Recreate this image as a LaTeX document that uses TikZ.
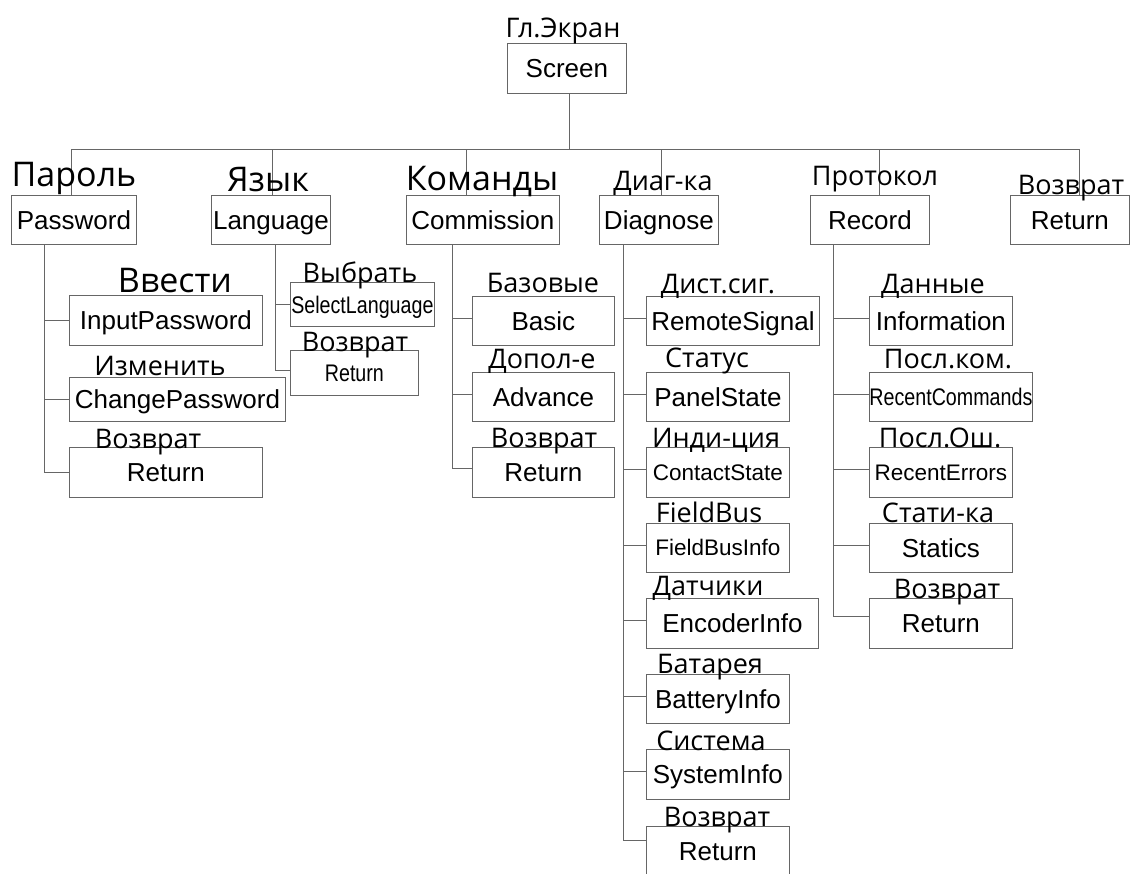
\documentclass[tikz,border=0pt]{standalone}
\usepackage{fontspec}
\setmainfont{Liberation Sans}
\newfontfamily\lblfont{Open Sans}
\newfontfamily\narrowfont[FakeStretch=0.82]{Liberation Sans}
\tikzset{
  menubox/.style={draw=black!60, line width=0.8pt, inner sep=0pt, anchor=north west,
    font=\fontsize{26}{28}\selectfont, text height=23pt, text depth=4.4pt},
  smallbox/.style={menubox, font=\fontsize{22.5}{24}\selectfont, text height=20pt, text depth=3.9pt},
  narrowbox/.style={menubox, font=\narrowfont\fontsize{24}{26}\selectfont, text height=21pt, text depth=3.8pt},
  lbl/.style={anchor=base, inner sep=0pt, font=\lblfont\fontsize{27}{29}\selectfont},
  biglbl/.style={lbl, font=\lblfont\fontsize{34}{36}\selectfont},
  wire/.style={draw=black!60, line width=0.8pt},
}
\begin{document}
\begin{tikzpicture}[x=1pt, y=-1pt]
    \useasboundingbox (0,0) rectangle (1131,873);
    \clip (0,0) rectangle (1131,873);
    % main screen and first level
    \node[menubox, minimum width=119pt, minimum height=50pt] (scr) at (507,43) {Screen};
    \node[menubox, minimum width=125pt, minimum height=49pt] (pwd) at (11,195) {Password};
    \node[menubox, minimum width=119pt, minimum height=49pt] (lng) at (211,195) {Language};
    \node[menubox, minimum width=153pt, minimum height=49pt] (cmd) at (406,195) {Commission};
    \node[menubox, minimum width=119pt, minimum height=49pt] (dgn) at (599,195) {Diagnose};
    \node[menubox, minimum width=119pt, minimum height=49pt] (rec) at (810,195) {Record};
    \node[menubox, minimum width=119pt, minimum height=49pt] (ret) at (1010,195) {Return};
    % password
    \node[menubox, minimum width=193pt, minimum height=50pt] (pin) at (69,295) {InputPassword};
    \node[menubox, minimum width=216pt, minimum height=44pt] (pch) at (69,377) {ChangePassword};
    \node[menubox, minimum width=193pt, minimum height=50pt] (pret) at (69,447) {Return};
    % language
    \node[narrowbox, minimum width=144pt, minimum height=44pt] (lsel) at (290,282) {SelectLanguage};
    \node[narrowbox, minimum width=128pt, minimum height=45pt] (lret) at (290,350) {Return};
    % commission
    \node[menubox, minimum width=142pt, minimum height=49pt] (cbas) at (472,296) {Basic};
    \node[menubox, minimum width=142pt, minimum height=49pt] (cadv) at (472,372) {Advance};
    \node[menubox, minimum width=142pt, minimum height=50pt] (cret) at (472,447) {Return};
    % diagnose
    \node[menubox, minimum width=173pt, minimum height=49pt] (dsig) at (646,296) {RemoteSignal};
    \node[menubox, minimum width=143pt, minimum height=49pt] (dpan) at (646,372) {PanelState};
    \node[smallbox, minimum width=143pt, minimum height=50pt] (dcon) at (646,447) {ContactState};
    \node[smallbox, minimum width=143pt, minimum height=49pt] (dfld) at (646,523) {FieldBusInfo};
    \node[menubox, minimum width=172pt, minimum height=50pt] (denc) at (646,598) {EncoderInfo};
    \node[menubox, minimum width=143pt, minimum height=49pt] (dbat) at (646,674) {BatteryInfo};
    \node[menubox, minimum width=143pt, minimum height=50pt] (dsys) at (646,749) {SystemInfo};
    \node[menubox, minimum width=143pt, minimum height=49pt] (dret) at (646,826) {Return};
    % record
    \node[menubox, minimum width=143pt, minimum height=49pt] (rinf) at (869,296) {Information};
    \node[narrowbox, minimum width=163pt, minimum height=49pt] (rcmd) at (869,372) {RecentCommands};
    \node[smallbox, minimum width=143pt, minimum height=50pt] (rerr) at (869,447) {RecentErrors};
    \node[menubox, minimum width=143pt, minimum height=49pt] (rsta) at (869,523) {Statics};
    \node[menubox, minimum width=143pt, minimum height=50pt] (rret) at (869,598) {Return};
    % bus
    \coordinate (bus_scr_pnt) at (569,149);
    \coordinate (bus_pwd_pnt) at (71,149);
    \coordinate (bus_lng_pnt) at (272,149);
    \coordinate (bus_cmd_pnt) at (466,149);
    \coordinate (bus_dgn_pnt) at (661,149);
    \coordinate (bus_rec_pnt) at (879,149);
    \coordinate (bus_ret_pnt) at (1079,149);
    \draw[wire] (scr.south -| bus_scr_pnt) -- (bus_scr_pnt);
    \draw[wire] (bus_pwd_pnt) -- (bus_ret_pnt);
    \foreach \n in {pwd,lng,cmd,dgn,rec,ret}
        \draw[wire] (bus_\n_pnt) -- (bus_\n_pnt |- \n.north);
    % trunks
    \coordinate (pwd_trk_pnt) at (44,244);
    \coordinate (lng_trk_pnt) at (275,244);
    \coordinate (cmd_trk_pnt) at (452,244);
    \coordinate (dgn_trk_pnt) at (623,244);
    \coordinate (rec_trk_pnt) at (833,244);
    \draw[wire] (pwd_trk_pnt) |- (pret.west);
    \foreach \n in {pin,pch}
        \draw[wire] (pwd_trk_pnt |- \n.west) -- (\n.west);
    \draw[wire] (lng_trk_pnt) |- ([yshift=3pt]lret.west);
    \draw[wire] (lng_trk_pnt |- lsel.west) -- (lsel.west);
    \draw[wire] (cmd_trk_pnt) |- ([yshift=4pt]cret.west);
    \foreach \n in {cbas,cadv}
        \draw[wire] ([yshift=3pt]cmd_trk_pnt |- \n.west) -- ([yshift=3pt]\n.west);
    \draw[wire] (dgn_trk_pnt) |- ([yshift=11pt]dret.west);
    \foreach \n in {dsig,dpan,dcon,dfld,denc,dbat,dsys}
        \draw[wire] ([yshift=3pt]dgn_trk_pnt |- \n.west) -- ([yshift=3pt]\n.west);
    \draw[wire] (rec_trk_pnt) |- ([yshift=7pt]rret.west);
    \foreach \n in {rinf,rcmd,rerr,rsta}
        \draw[wire] ([yshift=3pt]rec_trk_pnt |- \n.west) -- ([yshift=3pt]\n.west);
    % labels
    \node[lbl] (l_scr) at (563,37) {Гл.Экран};
    \node[biglbl] (l_pwd) at (74,186) {Пароль};
    \node[biglbl] (l_lng) at (268,191) {Язык};
    \node[biglbl] (l_cmd) at (482,190) {Команды};
    \node[lbl] (l_dgn) at (663,190) {Диаг-ка};
    \node[lbl] (l_rec) at (875,185) {Протокол};
    \node[lbl] (l_ret) at (1071,194) {Возврат};
    \node[biglbl] (l_pin) at (175,292) {Ввести};
    \node[lbl] (l_pch) at (160,375) {Изменить};
    \node[lbl] (l_pret) at (148,448) {Возврат};
    \node[lbl] (l_lsel) at (360,282) {Выбрать};
    \node[lbl] (l_lret) at (355,351) {Возврат};
    \node[lbl] (l_cbas) at (543,292) {Базовые};
    \node[lbl] (l_cadv) at (542,368) {Допол-е};
    \node[lbl] (l_cret) at (544,447) {Возврат};
    \node[lbl] (l_dsig) at (718,293) {Дист.сиг.};
    \node[lbl] (l_dpan) at (707,367) {Статус};
    \node[lbl] (l_dcon) at (716,447) {Инди-ция};
    \node[lbl] (l_dfld) at (709,522) {FieldBus};
    \node[lbl] (l_denc) at (708,595) {Датчики};
    \node[lbl] (l_dbat) at (710,673) {Батарея};
    \node[lbl] (l_dsys) at (711,750) {Система};
    \node[lbl] (l_dret) at (717,826) {Возврат};
    \node[lbl] (l_rinf) at (933,293) {Данные};
    \node[lbl] (l_rcmd) at (948,368) {Посл.ком.};
    \node[lbl] (l_rerr) at (940,447) {Посл.Ош.};
    \node[lbl] (l_rsta) at (938,522) {Стати-ка};
    \node[lbl] (l_rret) at (947,598) {Возврат};
\end{tikzpicture}
\end{document}
